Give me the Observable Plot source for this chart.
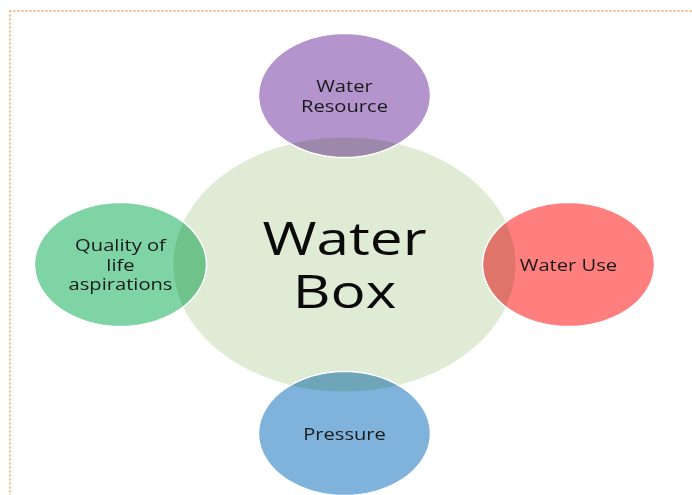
<!DOCTYPE html>
<html><head><meta charset="utf-8">
<script src="https://cdn.jsdelivr.net/npm/d3@7"></script>
<script src="https://cdn.jsdelivr.net/npm/@observablehq/plot@0.6"></script>
<style>body{margin:0;background:#fff;} #chart svg{display:block;}</style>
</head><body><div id="chart"></div>
<script>
// ---- data ----
const hubLabel = "Water\nBox";
const hubColor = "#dfebd5";
const spokeLabels = ["Water\nResource", "Water Use", "Pressure", "Quality of\nlife\naspirations"];
const spokeColors = ["#b394cc", "#ff7f7f", "#7fb3dc", "#7fd4a5"];
const spokeAngles = [0, 90, 180, 270]; // clockwise from top

// ---- layout ----
const W = 692, H = 495;
const hub = {cx: 344, cy: 264, rx: 171, ry: 127};
const spokeDist = {x: 224, y: 169};
const spokeR = {rx: 86, ry: 62};
const textScale = 1.3;

function ellipse(cx, cy, rx, ry, key, fill) {
  const n = 120;
  return d3.range(n).map(i => {
    const a = 2 * Math.PI * i / n;
    return {x: cx + rx * Math.cos(a), y: cy + ry * Math.sin(a), key, fill};
  });
}

const spokes = spokeLabels.map((label, i) => {
  const a = spokeAngles[i] * Math.PI / 180;
  return {
    label, color: spokeColors[i],
    cx: hub.cx + spokeDist.x * Math.sin(a),
    cy: hub.cy - spokeDist.y * Math.cos(a)
  };
});

const hubPts = ellipse(hub.cx, hub.cy, hub.rx, hub.ry, "hub", hubColor);
const spokePts = spokes.flatMap(s => ellipse(s.cx, s.cy, spokeR.rx, spokeR.ry, s.label, s.color));

const chart = Plot.plot({
  width: W, height: H,
  margin: 0,
  x: {domain: [0, W], range: [0, W], axis: null},
  y: {domain: [0, H], range: [0, H], axis: null},
  style: {background: "#fff"},
  marks: [
    Plot.line(hubPts, {x: "x", y: "y", fill: hubColor, stroke: "none", curve: "linear-closed"}),
    Plot.line(spokePts, {x: "x", y: "y", z: "key", fill: "fill", stroke: "none", curve: "linear-closed", mixBlendMode: "multiply"}),
    Plot.line(spokePts, {x: "x", y: "y", z: "key", fill: "none", stroke: "white", strokeWidth: 1.5, curve: "linear-closed"}),
    Plot.ruleY([10.5], {x1: 9.5, x2: W, stroke: "#f5b88a", strokeWidth: 2, strokeDasharray: "2,2"}),
    Plot.ruleX([9.5], {y1: 10.5, y2: H, stroke: "#f5b88a", strokeWidth: 2, strokeDasharray: "2,2"}),
    Plot.text([{label: hubLabel, x: hub.cx, y: hub.cy}], {x: "x", y: "y", text: "label", fontSize: 45, lineHeight: 1.17, fill: "#0a0a0a", fontFamily: "Open Sans"}),
    Plot.text(spokes, {x: "cx", y: "cy", text: "label", fontSize: 15.5, lineHeight: 1.26, fill: "#1a1a1a", fontFamily: "Open Sans"})
  ]
});
document.getElementById("chart").appendChild(chart);
chart.querySelectorAll("text").forEach(t => {
  const tr = t.getAttribute("transform");
  if (tr) t.setAttribute("transform", tr + ` scale(${textScale},1)`);
});
chart.querySelectorAll("path").forEach(p => {
  const g = p.parentNode;
  if (g && g.getAttribute("mix-blend-mode") === "multiply") p.style.mixBlendMode = "multiply";
});
</script>
</body></html>
